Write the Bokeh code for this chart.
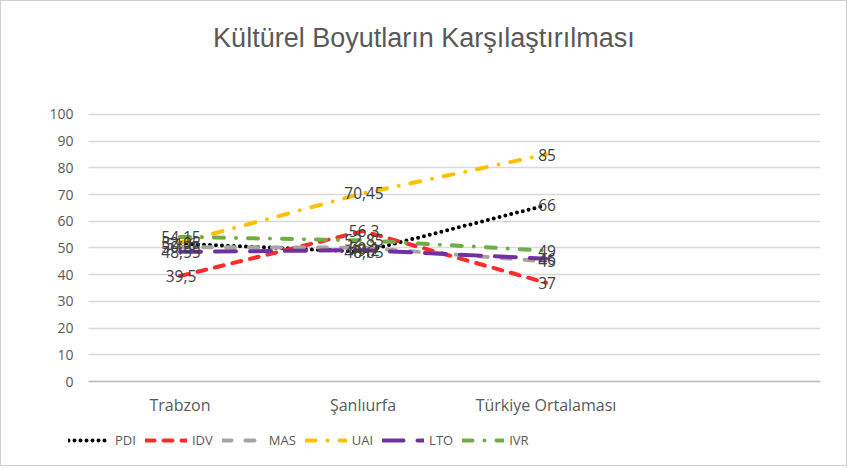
from bokeh.plotting import figure
from bokeh.models import Range1d, ColumnDataSource, Legend, LegendItem, FixedTicker, Label
from bokeh.core.properties import value
from bokeh.embed import file_html
from bokeh.resources import INLINE

title_text = "Kültürel Boyutların Karşılaştırılması"
categories = ["Trabzon", "Şanlıurfa", "Türkiye Ortalaması"]
series_names = ["PDI", "IDV", "MAS", "UAI", "LTO", "IVR"]
PDI = [51.6, 48.65, 66]
IDV = [39.5, 56.3, 37]
MAS = [50.35, 50.1, 45]
UAI = [52.05, 70.45, 85]
LTO = [48.55, 49.2, 46]
IVR = [54.15, 52.85, 49]
y_ticks = [0, 10, 20, 30, 40, 50, 60, 70, 80, 90, 100]

series_values = [PDI, IDV, MAS, UAI, LTO, IVR]
colors = ["#000000", "#ff2a2a", "#a5a5a5", "#ffc000", "#7030a0", "#70ad47"]
dashes = ["0 6", "9 9", "9 14", "10 12 0 12", "21 14", "10 12 0 12"]

xpos = [i + 0.5 for i in range(len(categories))]

FONT = "Open Sans"
p = figure(width=847, height=466, output_backend="svg", toolbar_location=None,
           title_location=None,
           x_range=Range1d(-0.2568, 4), y_range=Range1d(-32.2, 142.3),
           min_border_left=40, min_border_right=28, min_border_top=0,
           min_border_bottom=0)

p.add_layout(Label(x=1.833, y=128.5, text=title_text, text_align="center",
                   text_baseline="middle", text_font="Liberation Sans",
                   text_font_size="27px", text_color="#595959"))

p.outline_line_color = None
p.background_fill_color = "white"
p.border_fill_color = "white"
p.styles = {"border": "1px solid #d0d0d0"}

p.xgrid.grid_line_color = None
p.ygrid.grid_line_color = "#d9d9d9"
p.ygrid.grid_line_width = 1.5
g = p.ygrid[0]
if "cross_bounds" in g.properties():
    g.cross_bounds = (0, 4)

p.yaxis.fixed_location = 0
p.yaxis.bounds = (0, 100)
p.yaxis.ticker = FixedTicker(ticks=y_ticks)
p.yaxis.axis_line_color = None
p.yaxis.major_tick_line_color = None
p.yaxis.minor_tick_line_color = None
p.yaxis.major_tick_out = 0
p.yaxis.major_tick_in = 0
p.yaxis.major_label_text_font = FONT
p.yaxis.major_label_text_font_size = "14px"
p.yaxis.major_label_text_color = "#595959"
p.yaxis.major_label_standoff = 15

p.xaxis.fixed_location = 0
p.xaxis.bounds = (0, 4)
p.xaxis.ticker = FixedTicker(ticks=xpos)
p.xaxis.major_label_overrides = {x: c for x, c in zip(xpos, categories)}
p.xaxis.axis_line_color = "#bfbfbf"
p.xaxis.axis_line_width = 1.5
p.xaxis.major_tick_line_color = None
p.xaxis.minor_tick_line_color = None
p.xaxis.major_tick_out = 0
p.xaxis.major_tick_in = 0
p.xaxis.major_label_text_font = FONT
p.xaxis.major_label_text_font_size = "16px"
p.xaxis.major_label_text_color = "#595959"
p.xaxis.major_label_standoff = 12

items = []
for name, vals, col, dash in zip(series_names, series_values, colors, dashes):
    src = ColumnDataSource(dict(x=xpos, y=vals))
    r = p.line("x", "y", source=src, line_color=col, line_width=4,
               line_dash=dash, line_cap="round")
    items.append(LegendItem(label=name, renderers=[r]))

for name, vals in zip(series_names, series_values):
    src = ColumnDataSource(dict(x=xpos, y=vals,
                                lab=[(f"{v:g}").replace(".", ",") for v in vals]))
    p.text("x", "y", text="lab", source=src, text_font=value(FONT),
           text_font_size="15.5px", text_color="#404040", text_align="center",
           text_baseline="middle", x_offset=1)

legend = Legend(items=items, orientation="horizontal", location=(27, 18),
                label_text_font=FONT, label_text_font_size="13px",
                label_text_color="#595959", glyph_width=42, glyph_height=14,
                spacing=9, label_standoff=5, border_line_color=None,
                background_fill_alpha=0, padding=0, margin=0)
p.add_layout(legend)

open("out.html", "w").write(file_html(p, INLINE))
